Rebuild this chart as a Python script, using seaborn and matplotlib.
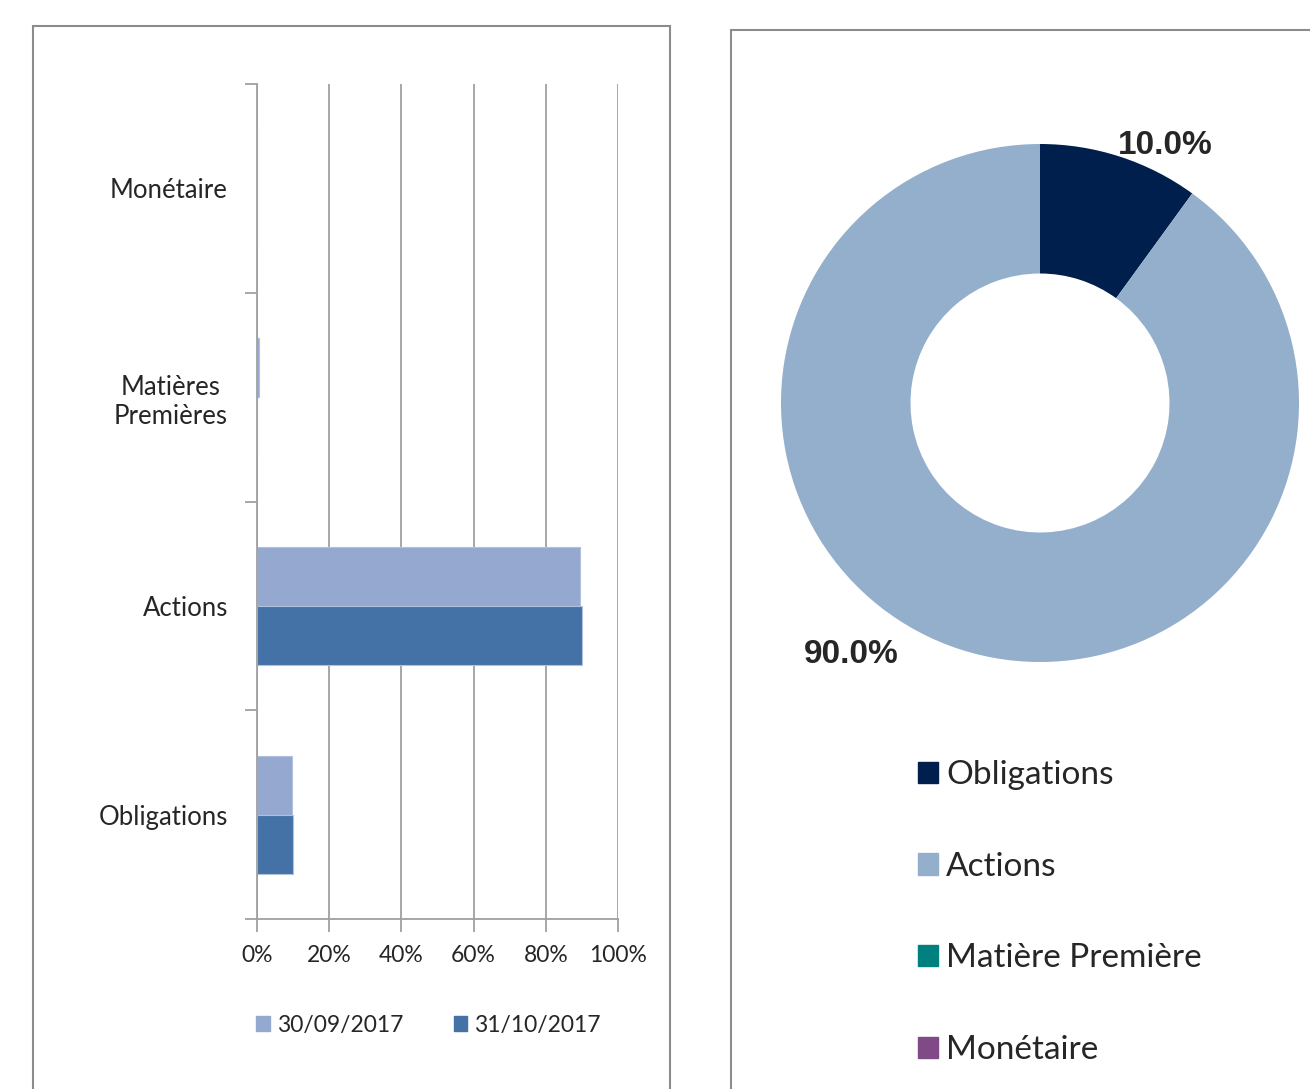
import numpy as np
import pandas as pd
import matplotlib.pyplot as plt
import seaborn as sns
from matplotlib.patches import Rectangle, Patch

# Data
categories = ["Monétaire", "Matières Premières", "Actions", "Obligations"]
cat_labels = ["Monétaire", "Matières\nPremières", "Actions", "Obligations"]
dates = ["30/09/2017", "31/10/2017"]
vals_sep = [0.0, 0.5, 89.5, 9.8]
vals_oct = [0.0, 0.0, 90.0, 10.0]

pie_labels = ["Obligations", "Actions", "Matière Première", "Monétaire"]
pie_values = [10.0, 90.0, 0.0, 0.0]

bar_colors = ["#95A9D0", "#4472A6"]
pie_colors = ["#001F4D", "#93AFCB", "#00807F", "#7F4A85"]

sns.set_theme(style="white")
plt.rcParams['font.family'] = ['Lato', 'DejaVu Sans']

W, H = 1310, 1089
fig = plt.figure(figsize=(W / 100, H / 100), dpi=100)

def fr(x0, y0, x1, y1):
    # pixel box (top-left origin) -> figure fraction rect
    return [x0 / W, 1 - y1 / H, (x1 - x0) / W, (y1 - y0) / H]

# outer frames
grey = "#8C8C8C"
fig.patches.append(Rectangle((33 / W, -0.01), (670 - 33) / W, 1 - 26 / H + 0.01,
                             transform=fig.transFigure, fill=False, ec=grey, lw=1.5))
fig.patches.append(Rectangle((731 / W, -0.01), 0.5, 1 - 30 / H + 0.01,
                             transform=fig.transFigure, fill=False, ec=grey, lw=1.5))

# ---- bar chart ----
df = pd.DataFrame({
    "cat": categories * 2,
    "date": [dates[0]] * 4 + [dates[1]] * 4,
    "value": vals_sep + vals_oct,
})

ax = fig.add_axes(fr(257, 84, 618, 919))
sns.barplot(data=df, y="cat", x="value", hue="date", order=categories,
            hue_order=dates, palette=bar_colors, width=0.565, orient="h",
            saturation=1, ax=ax, edgecolor="#B0C0DD", linewidth=0.8)
ax.set_xlim(0, 100)
ax.set_ylim(3.5, -0.5)
ax.set_xlabel("")
ax.set_ylabel("")
ax.set_xticks(np.arange(0, 101, 20))
ax.set_xticklabels([f"{v}%" for v in range(0, 101, 20)], fontsize=16.5)
ax.xaxis.grid(True, color="#A0A0A0", lw=1.3)
ax.set_axisbelow(True)
ax.set_yticks([-0.5, 0.5, 1.5, 2.5, 3.5])
ax.set_yticklabels([])
ax.set_yticks(range(4), minor=True)
ax.set_yticklabels(cat_labels, minor=True, fontsize=18.5)
for lab in ax.get_yticklabels(minor=True):
    lab.set_multialignment("center")
ax.tick_params(axis="y", which="major", left=True, length=9, width=1.3, color="#A0A0A0")
ax.tick_params(axis="y", which="minor", left=False, length=0, pad=21)
ax.tick_params(axis="x", bottom=True, length=9, width=1.3, color="#A0A0A0", pad=10)
for s in ["top", "right"]:
    ax.spines[s].set_visible(False)
for s in ["left", "bottom"]:
    ax.spines[s].set_color("#A0A0A0")
    ax.spines[s].set_linewidth(1.3)

ax.legend(handles=[Patch(color=c, label=d) for c, d in zip(bar_colors, dates)],
          loc="upper center", bbox_to_anchor=(0.475, -0.09), ncol=2, frameon=False,
          fontsize=16.5, handlelength=0.6, handleheight=0.6, handletextpad=0.3,
          columnspacing=2.2)

# ---- donut ----
ax2 = fig.add_axes(fr(781, 144, 1299, 662))
wedges, _ = ax2.pie(pie_values, colors=pie_colors, startangle=90, counterclock=False,
                    radius=1.0, wedgeprops=dict(width=0.5, edgecolor="none"))
ax2.set_xlim(-1, 1)
ax2.set_ylim(-1, 1)
ax2.set_aspect("equal")
ax2.axis("off")

ax2.text(0.485, 0.995, f"{pie_values[0]:.1f}%", fontsize=24, fontweight="bold",
         family="Liberation Sans", ha="center", va="center")
ax2.text(-0.73, -0.97, f"{pie_values[1]:.1f}%", fontsize=24, fontweight="bold",
         family="Liberation Sans", ha="center", va="center")

fig.legend(handles=[Patch(color=c, label=l) for c, l in zip(pie_colors, pie_labels)],
           loc="upper left", bbox_to_anchor=(918 / W, 1 - 760 / H), frameon=False,
           fontsize=24, handlelength=0.6, handleheight=0.6, handletextpad=0.25,
           labelspacing=1.85, borderaxespad=0, borderpad=0)

fig.savefig("out.png", dpi=100)
